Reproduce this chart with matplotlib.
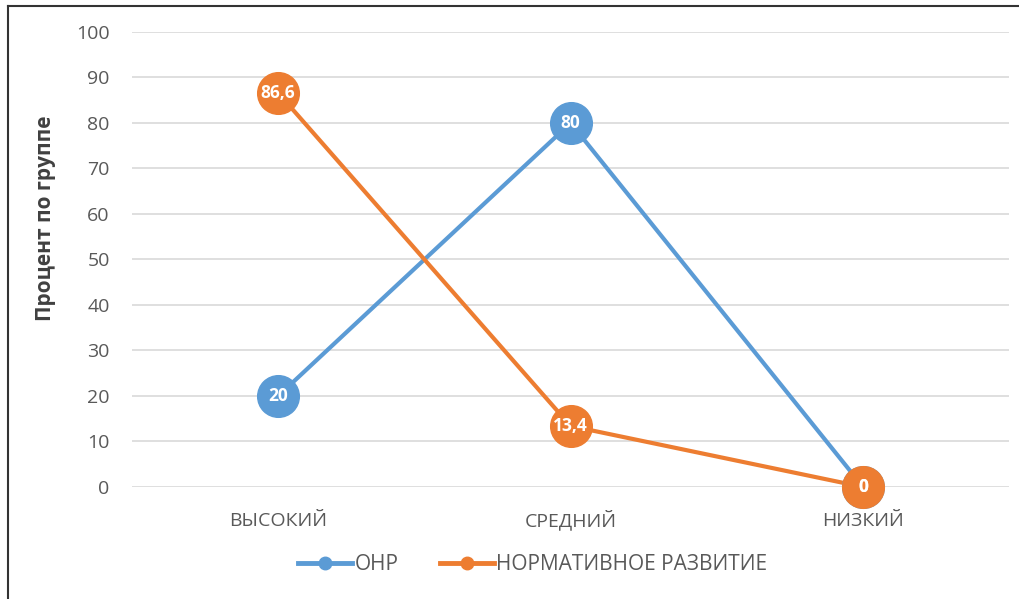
import matplotlib.pyplot as plt
from matplotlib.lines import Line2D

plt.rcParams['font.family'] = ['Open Sans', 'DejaVu Sans']

levels = ['ВЫСОКИЙ', 'СРЕДНИЙ', 'НИЗКИЙ']
onr = [20, 80, 0]
norm = [86.6, 13.4, 0]
series_names = ['ОНР', 'НОРМАТИВНОЕ РАЗВИТИЕ']
colors = ['#5B9BD5', '#ED7D31']

fig = plt.figure(figsize=(10.19, 5.99), dpi=100)
ax = fig.add_axes([0.1295, 0.187, 0.861, 0.7596])

x = range(len(levels))
for vals, c in zip([onr, norm], colors):
    ax.plot(x, vals, '-', color=c, lw=3, zorder=3, solid_capstyle='round')
    ax.plot(x, vals, 'o', color=c, ms=30, zorder=4)
    for xi, v in zip(x, vals):
        lbl = ('%g' % v).replace('.', ',')
        ax.text(xi, v, lbl, color='white', ha='center', va='center',
                fontsize=12.5, fontweight='bold', zorder=5)

ax.set_xlim(-0.5, 2.5)
ax.set_ylim(0, 100)
ax.set_yticks(range(0, 101, 10))
ax.set_xticks(list(x))
ax.set_xticklabels(levels)
ax.grid(axis='y', color='#D9D9D9', lw=1.2)
ax.set_axisbelow(True)
for s in ax.spines.values():
    s.set_visible(False)
ax.tick_params(length=0, colors='#595959', labelsize=14)
ax.tick_params(axis='y', pad=16)
ax.tick_params(axis='x', pad=28)
for t in ax.get_xticklabels():
    t.set_verticalalignment('baseline')
for ln in ax.lines:
    ln.set_clip_on(False)

fig.text(0.045, 0.636, 'Процент по группе', rotation=90, ha='center', va='center',
         fontsize=15, fontweight='bold', color='#404040')

handles = [Line2D([], [], color=c, lw=3.5, marker='o', ms=9) for c in colors]
fig.legend(handles, series_names, loc='center', bbox_to_anchor=(0.523, 0.057),
           ncol=2, frameon=False, fontsize=15, labelcolor='#595959',
           handlelength=2.6, handletextpad=0.1, columnspacing=2.0)

# frame lines along the top and left edge
fig.add_artist(Line2D([0.008, 1.0], [0.99, 0.99], color='#333333', lw=1.5))
fig.add_artist(Line2D([0.008, 0.008], [0.0, 0.99], color='#333333', lw=1.5))

fig.savefig('out.png', dpi=100)
